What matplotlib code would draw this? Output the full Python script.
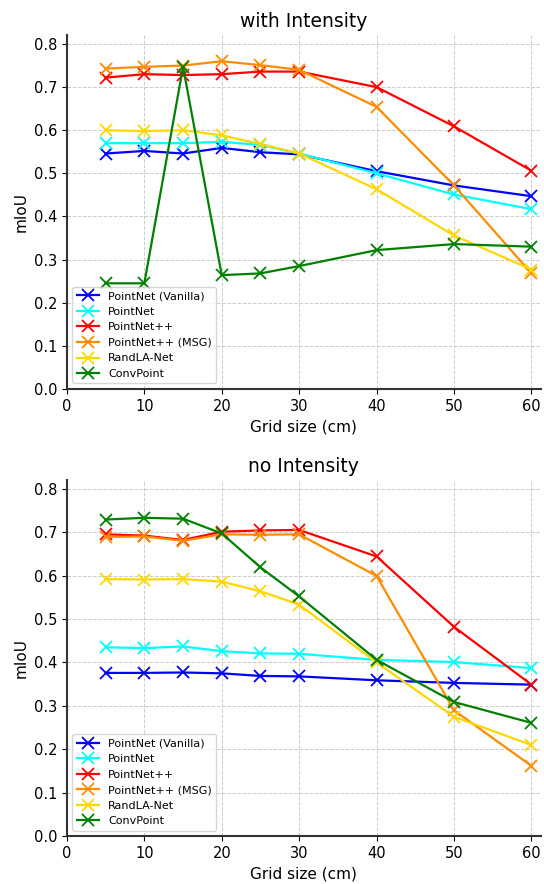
import matplotlib
matplotlib.use("Agg")
import matplotlib.pyplot as plt

grid_sizes = [5, 10, 15, 20, 25, 30, 40, 50, 60]
model_names = ["PointNet (Vanilla)", "PointNet", "PointNet++", "PointNet++ (MSG)", "RandLA-Net", "ConvPoint"]
model_colors = ["blue", "cyan", "red", "darkorange", "gold", "green"]

# mIoU with intensity
with_pointnet_vanilla = [0.546, 0.552, 0.546, 0.559, 0.549, 0.544, 0.505, 0.472, 0.447]
with_pointnet = [0.570, 0.570, 0.570, 0.573, 0.566, 0.546, 0.500, 0.451, 0.417]
with_pointnet2 = [0.722, 0.730, 0.728, 0.730, 0.736, 0.736, 0.700, 0.609, 0.506]
with_pointnet2_msg = [0.743, 0.747, 0.750, 0.760, 0.751, 0.740, 0.654, 0.472, 0.268]
with_randla = [0.600, 0.598, 0.600, 0.588, 0.568, 0.546, 0.463, 0.356, 0.277]
with_convpoint = [0.245, 0.245, 0.747, 0.264, 0.268, 0.285, 0.322, 0.336, 0.330]

# mIoU without intensity
no_pointnet_vanilla = [0.376, 0.376, 0.377, 0.375, 0.369, 0.368, 0.359, 0.353, 0.349]
no_pointnet = [0.435, 0.433, 0.437, 0.426, 0.421, 0.420, 0.406, 0.401, 0.387]
no_pointnet2 = [0.695, 0.692, 0.682, 0.701, 0.704, 0.705, 0.644, 0.482, 0.349]
no_pointnet2_msg = [0.689, 0.690, 0.680, 0.695, 0.694, 0.695, 0.599, 0.290, 0.162]
no_randla = [0.592, 0.591, 0.592, 0.586, 0.564, 0.533, 0.400, 0.275, 0.210]
no_convpoint = [0.729, 0.733, 0.731, 0.697, 0.619, 0.552, 0.406, 0.309, 0.261]

panels = [
    ("with Intensity", [with_pointnet_vanilla, with_pointnet, with_pointnet2,
                        with_pointnet2_msg, with_randla, with_convpoint]),
    ("no Intensity", [no_pointnet_vanilla, no_pointnet, no_pointnet2,
                      no_pointnet2_msg, no_randla, no_convpoint]),
]

fig = plt.figure(figsize=(5.44, 8.84), dpi=100)
ax_boxes = [[0.123, 0.560, 0.871, 0.400], [0.123, 0.054, 0.871, 0.403]]

for box, (title, series) in zip(ax_boxes, panels):
    ax = fig.add_axes(box)
    for name, color, values in zip(model_names, model_colors, series):
        ax.plot(grid_sizes, values, color=color, marker="x", markersize=8,
                markeredgewidth=1.3, linewidth=1.6, label=name)
    ax.set_title(title, fontsize=13.5)
    ax.set_xlabel("Grid size (cm)", fontsize=11)
    ax.set_ylabel("mIoU", fontsize=11)
    ax.set_xlim(0, 61.2)
    ax.set_ylim(0, 0.82)
    ax.set_xticks([0, 10, 20, 30, 40, 50, 60])
    ax.set_yticks([0.0, 0.1, 0.2, 0.3, 0.4, 0.5, 0.6, 0.7, 0.8])
    ax.tick_params(labelsize=10.5)
    ax.grid(True, linestyle="--", color="#cccccc", linewidth=0.7)
    ax.spines["top"].set_visible(False)
    ax.spines["right"].set_visible(False)
    ax.spines["left"].set_linewidth(1.5)
    ax.spines["bottom"].set_linewidth(1.5)
    ax.spines["left"].set_color("#333333")
    ax.spines["bottom"].set_color("#333333")
    ax.legend(loc="lower left", fontsize=8)

plt.savefig("out.png", dpi=100)
